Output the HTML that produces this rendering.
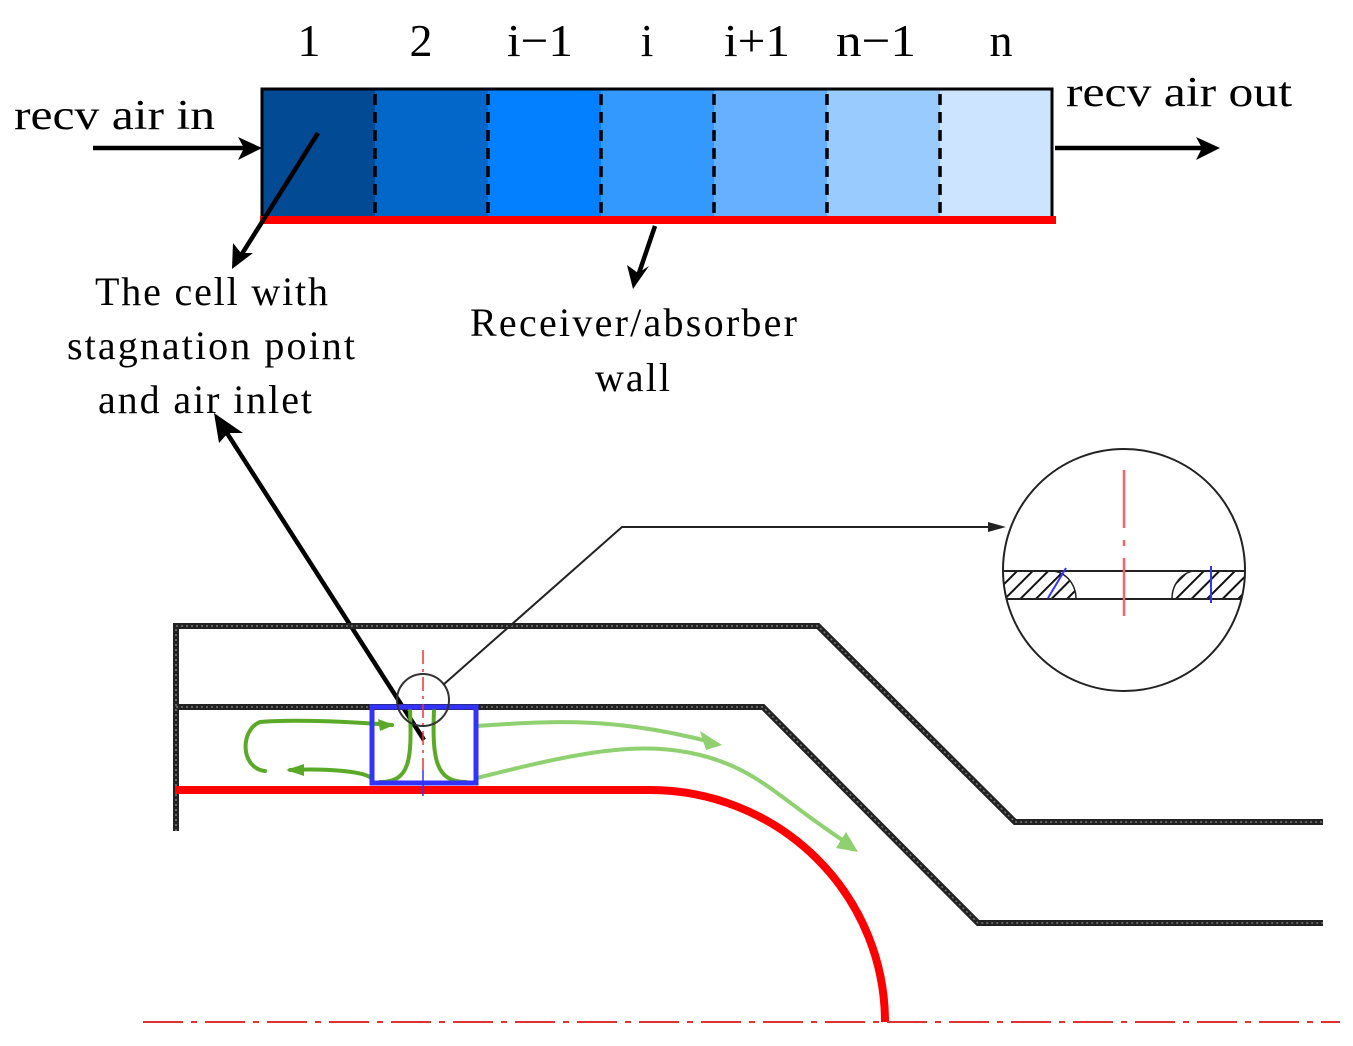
<!DOCTYPE html>
<html><head><meta charset="utf-8"><style>
html,body{margin:0;padding:0;background:#fff;}
svg{display:block;}
text{font-family:"Liberation Serif","Times New Roman",serif;fill:#000;}
</style></head><body>
<svg width="1353" height="1046" viewBox="0 0 1353 1046" xmlns="http://www.w3.org/2000/svg">
<defs>
<pattern id="hat" width="11" height="11" patternUnits="userSpaceOnUse" patternTransform="rotate(45)">
<rect width="11" height="11" fill="#fff"/><rect width="2" height="11" fill="#111"/>
</pattern>
<clipPath id="cc"><circle cx="1124" cy="570" r="121"/></clipPath>
</defs>

<!-- top numbers -->
<g font-size="46" text-anchor="middle">
<text x="309" y="56">1</text>
<text x="421" y="56">2</text>
<text x="540" y="56" textLength="66" lengthAdjust="spacingAndGlyphs">i−1</text>
<text x="647" y="56">i</text>
<text x="757" y="56" textLength="66" lengthAdjust="spacingAndGlyphs">i+1</text>
<text x="876" y="56" textLength="80" lengthAdjust="spacingAndGlyphs">n−1</text>
<text x="1001" y="56">n</text>
</g>

<!-- cells -->
<rect x="262" y="89" width="113" height="127" fill="#024a94"/>
<rect x="375" y="89" width="113" height="127" fill="#0366c9"/>
<rect x="488" y="89" width="113" height="127" fill="#0380ff"/>
<rect x="601" y="89" width="113" height="127" fill="#3399ff"/>
<rect x="714" y="89" width="113" height="127" fill="#66b0ff"/>
<rect x="827" y="89" width="113" height="127" fill="#99cbff"/>
<rect x="940" y="89" width="112" height="127" fill="#cce4ff"/>
<path d="M262,216 V89 H1052 V216" fill="none" stroke="#000" stroke-width="3"/>
<g stroke="#000" stroke-width="3.5" stroke-dasharray="11,7">
<line x1="375" y1="94" x2="375" y2="216"/><line x1="488" y1="94" x2="488" y2="216"/>
<line x1="601" y1="94" x2="601" y2="216"/><line x1="714" y1="94" x2="714" y2="216"/>
<line x1="827" y1="94" x2="827" y2="216"/><line x1="940" y1="94" x2="940" y2="216"/>
</g>
<rect x="260" y="216" width="796" height="8" fill="#ff0000"/>

<text x="14" y="129" font-size="42" textLength="201" lengthAdjust="spacingAndGlyphs">recv air in</text>
<text x="1066" y="106" font-size="42" textLength="226" lengthAdjust="spacingAndGlyphs">recv air out</text>

<!-- arrows -->
<g stroke="#000" stroke-width="4.5" fill="none">
<line x1="93" y1="148" x2="250" y2="148"/>
<line x1="1055" y1="148" x2="1205" y2="148"/>
<line x1="318" y1="133" x2="240" y2="257"/>
<line x1="655" y1="226" x2="638" y2="276"/>
<line x1="424" y1="740" x2="225" y2="430"/>
</g>
<polygon points="262,148 238,137 244,148 238,160" fill="#000"/>
<polygon points="1220,148 1196,137 1202,148 1196,160" fill="#000"/>
<polygon points="232,269 233,243 241,253 253,253" fill="#000"/>
<polygon points="633,289 627,265 638,273 649,266" fill="#000"/>
<polygon points="214,413 219,443 228,433 243,433" fill="#000"/>

<g font-size="40" lengthAdjust="spacingAndGlyphs">
<text x="95" y="305" textLength="233">The cell with</text>
<text x="67" y="359" textLength="288">stagnation point</text>
<text x="98" y="413" textLength="214">and air inlet</text>
<text x="470" y="336" textLength="327">Receiver/absorber</text>
<text x="595" y="391" textLength="75">wall</text>
</g>

<!-- walls -->
<g fill="none" stroke="#222" stroke-width="6" stroke-linejoin="miter">
<path d="M176,831 V626 H818 L1015,822 H1323"/>
<path d="M176,707 H763 L978,923 H1323"/>
</g>
<g fill="none" stroke="#777" stroke-width="1.5" stroke-dasharray="2,3">
<path d="M176,831 V626 H818 L1015,822 H1323"/>
<path d="M176,707 H763 L978,923 H1323"/>
</g>

<!-- red wall -->
<path d="M175,790 H650 A235,232 0 0 1 885,1022" fill="none" stroke="#ff0000" stroke-width="8"/>
<line x1="143" y1="1022" x2="1340" y2="1022" stroke="#d33" stroke-width="2" stroke-dasharray="40,8,6,8"/>

<!-- green flows -->
<g fill="none" stroke="#5aaa28" stroke-width="4" stroke-linecap="round">
<path d="M392,725 C330,720 280,720 260,722 C240,730 240,768 265,771"/>
<path d="M290,770 C330,768 365,772 371,778"/>
<path d="M410,710 C412,760 410,782 380,782"/>
<path d="M434,710 C432,760 436,782 466,782"/>
</g>
<polygon points="394,725 378,719 380,731" fill="#5aaa28"/>
<polygon points="286,770 304,764 304,776" fill="#5aaa28"/>
<g fill="none" stroke="#8fd070" stroke-width="4" stroke-linecap="round">
<path d="M477,726 C560,720 620,718 715,743"/>
<path d="M477,778 C580,752 640,740 700,755 C760,770 780,800 850,845"/>
</g>
<polygon points="722,745 700,731 706,750" fill="#8fd070"/>
<polygon points="858,852 846,832 836,848" fill="#8fd070"/>

<!-- blue box -->
<rect x="372" y="707" width="104" height="76" fill="none" stroke="#3333ff" stroke-width="5"/>
<line x1="423" y1="650" x2="423" y2="770" stroke="#e33" stroke-width="1.5" stroke-dasharray="14,5,3,5"/>
<line x1="423" y1="770" x2="423" y2="796" stroke="#33f" stroke-width="1.5"/>
<circle cx="423" cy="700" r="26" fill="none" stroke="#333" stroke-width="2"/>

<!-- leader -->
<polyline points="443,685 622,527 995,527" fill="none" stroke="#222" stroke-width="2"/>
<polygon points="1006,527 988,522 988,532" fill="#222"/>

<!-- detail circle -->
<g clip-path="url(#cc)">
<rect x="1000" y="571" width="50" height="28" fill="url(#hat)"/>
<path d="M1050,571 A25,28 0 0 1 1076,599 H1050 Z" fill="url(#hat)"/>
<rect x="1200" y="571" width="50" height="28" fill="url(#hat)"/>
<path d="M1200,571 A25,28 0 0 0 1172,599 H1200 Z" fill="url(#hat)"/>
<path d="M1050,571 A25,28 0 0 1 1076,599" fill="none" stroke="#222" stroke-width="1.5"/>
<path d="M1200,571 A25,28 0 0 0 1172,599" fill="none" stroke="#222" stroke-width="1.5"/>
<line x1="990" y1="571" x2="1260" y2="571" stroke="#222" stroke-width="2"/>
<line x1="990" y1="599" x2="1260" y2="599" stroke="#222" stroke-width="2"/>
</g>
<line x1="1048" y1="598" x2="1066" y2="568" stroke="#33f" stroke-width="2"/>
<line x1="1211" y1="566" x2="1211" y2="603" stroke="#33f" stroke-width="2"/>
<line x1="1124" y1="470" x2="1124" y2="620" stroke="#e66" stroke-width="2.5" stroke-dasharray="58,12,6,12"/>
<circle cx="1124" cy="570" r="121" fill="none" stroke="#222" stroke-width="2"/>
</svg>
</body></html>
